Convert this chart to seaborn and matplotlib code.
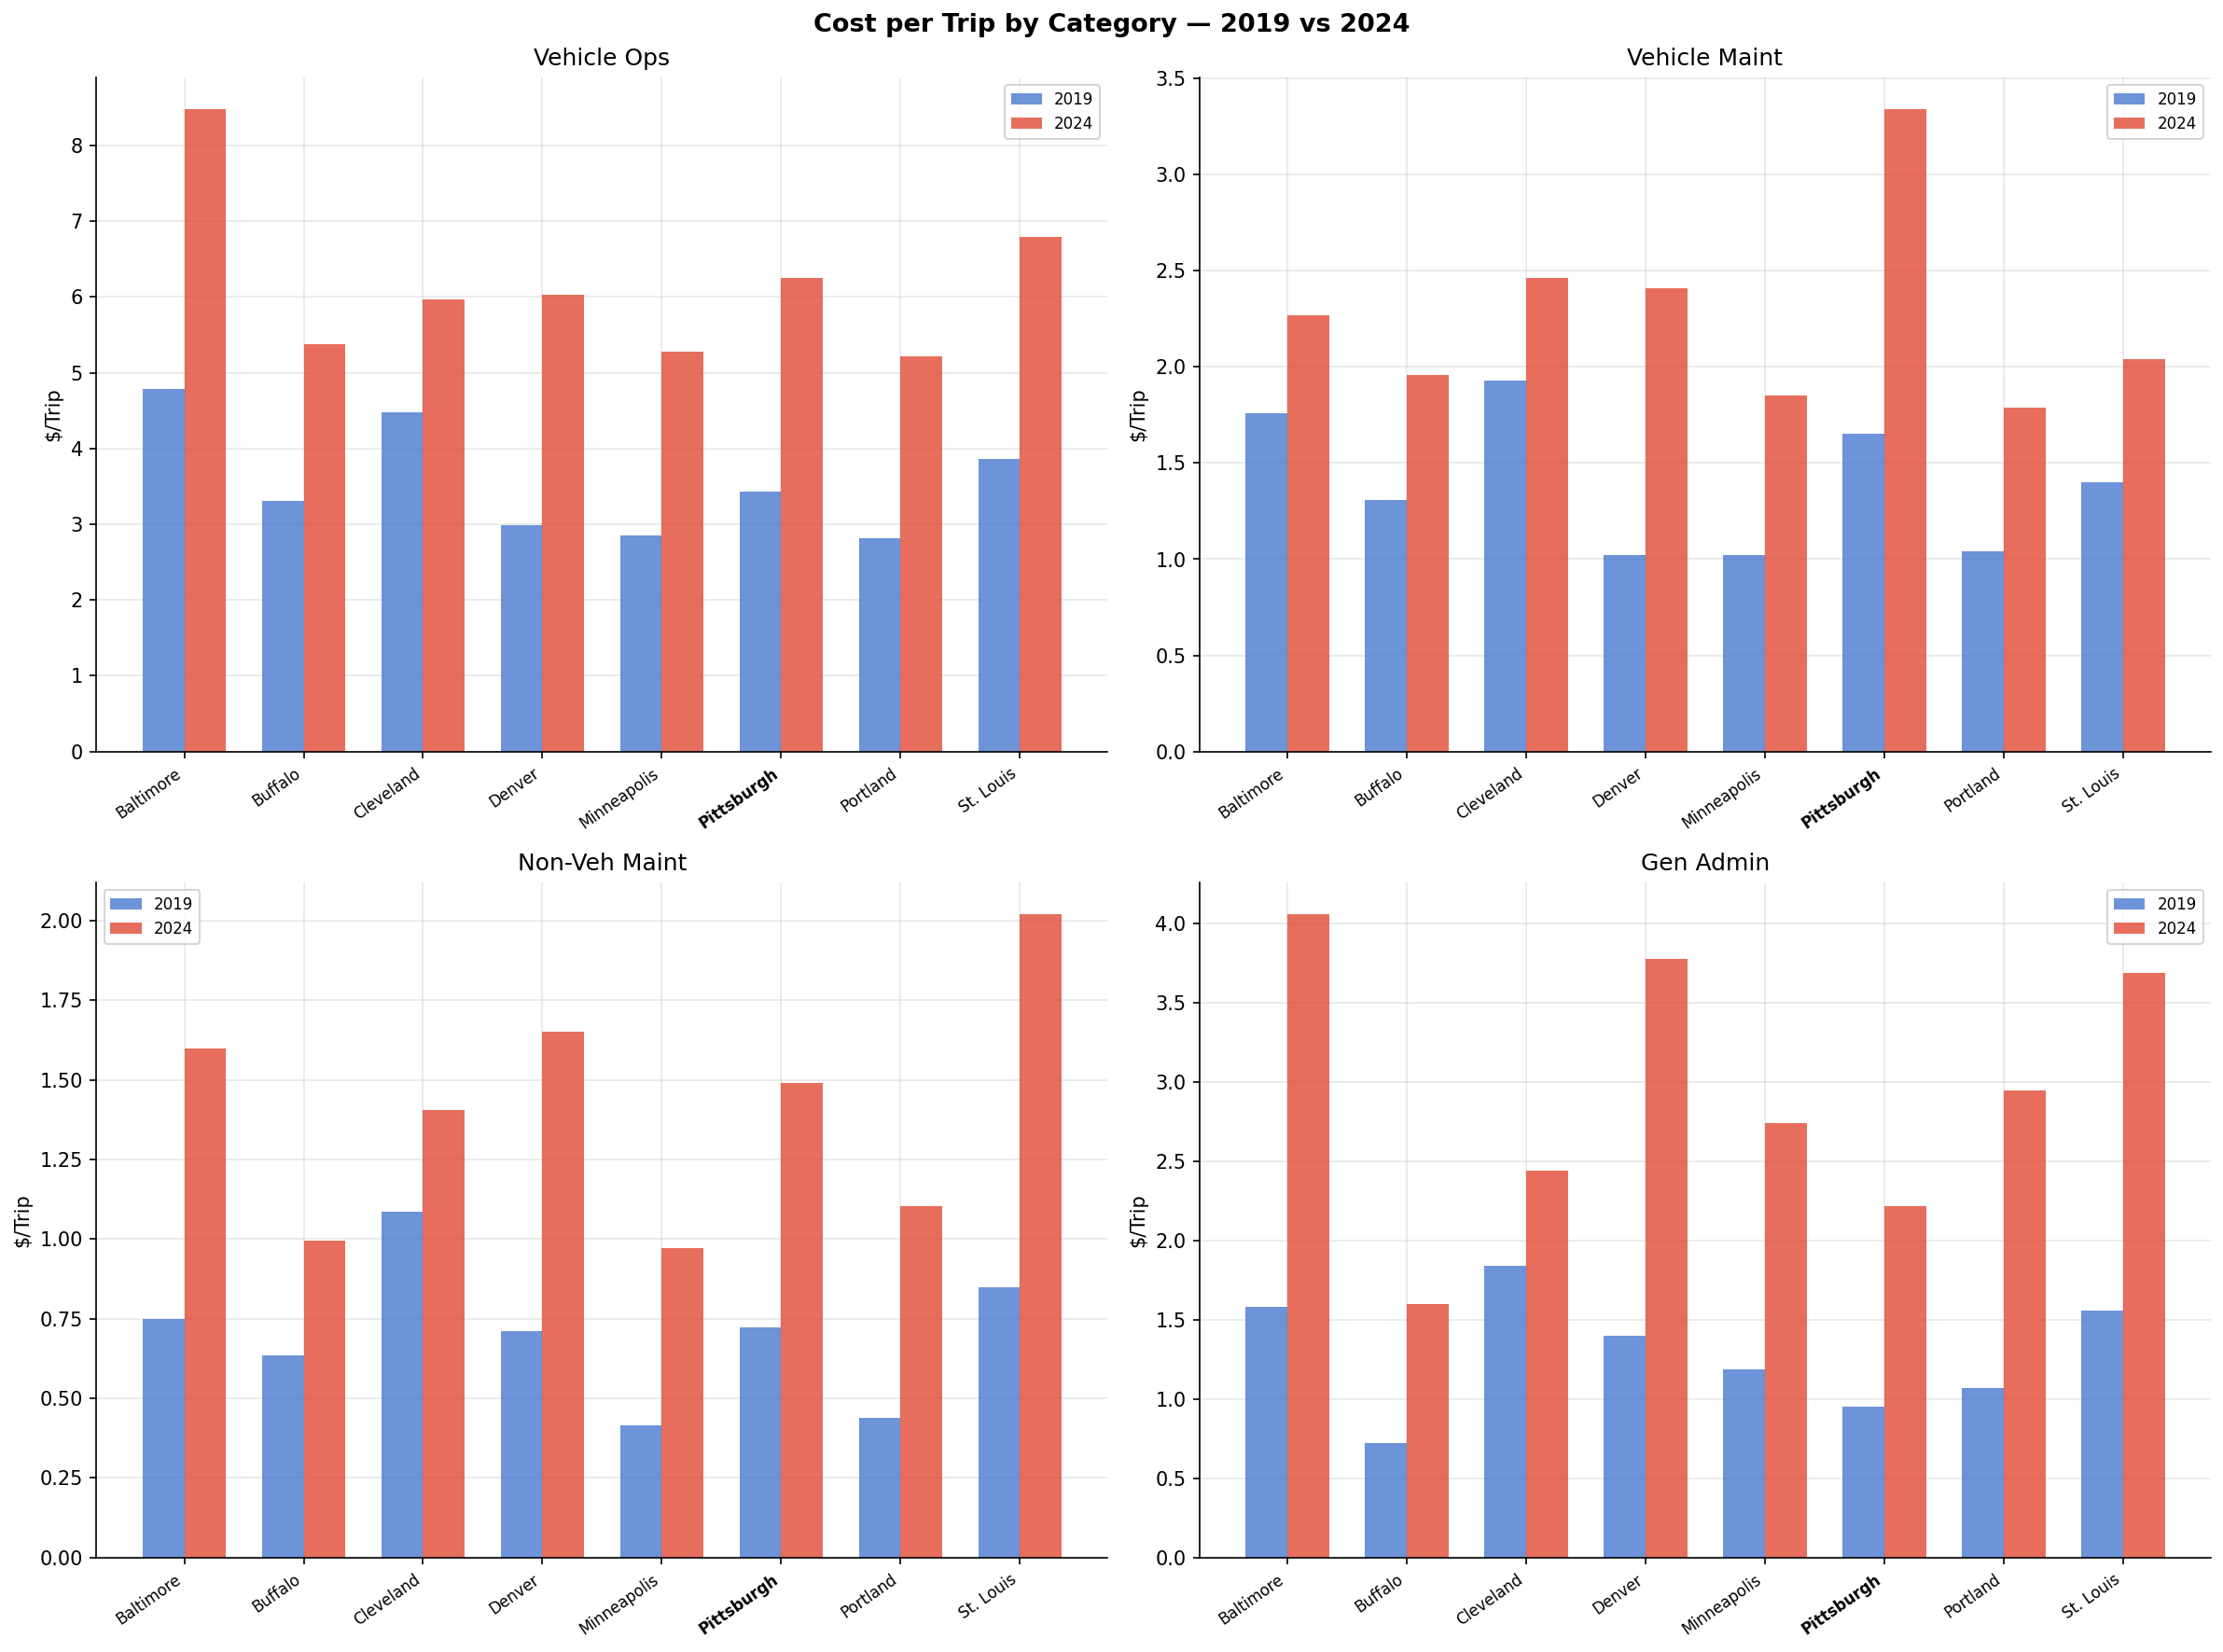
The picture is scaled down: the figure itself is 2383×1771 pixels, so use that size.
import matplotlib
matplotlib.use("Agg")
import matplotlib.pyplot as plt
import seaborn as sns
import pandas as pd

cities = ["Baltimore", "Buffalo", "Cleveland", "Denver", "Minneapolis", "Pittsburgh", "Portland", "St. Louis"]
years = ["2019", "2024"]
categories = ["Vehicle Ops", "Vehicle Maint", "Non-Veh Maint", "Gen Admin"]

veh_ops_2019 = [4.79, 3.31, 4.48, 2.99, 2.85, 3.43, 2.82, 3.86]
veh_ops_2024 = [8.48, 5.38, 5.97, 6.03, 5.28, 6.25, 5.22, 6.79]
veh_maint_2019 = [1.76, 1.31, 1.93, 1.02, 1.02, 1.65, 1.04, 1.40]
veh_maint_2024 = [2.27, 1.96, 2.46, 2.41, 1.85, 3.34, 1.79, 2.04]
nonveh_2019 = [0.75, 0.635, 1.085, 0.71, 0.415, 0.723, 0.44, 0.848]
nonveh_2024 = [1.60, 0.995, 1.406, 1.65, 0.973, 1.49, 1.105, 2.02]
admin_2019 = [1.58, 0.72, 1.84, 1.40, 1.19, 0.955, 1.07, 1.56]
admin_2024 = [4.06, 1.60, 2.44, 3.78, 2.74, 2.22, 2.95, 3.69]

series = {
    "Vehicle Ops": (veh_ops_2019, veh_ops_2024),
    "Vehicle Maint": (veh_maint_2019, veh_maint_2024),
    "Non-Veh Maint": (nonveh_2019, nonveh_2024),
    "Gen Admin": (admin_2019, admin_2024),
}

palette = {"2019": "#4878d0", "2024": "#e24a33"}
legend_locs = ["upper right", "upper right", "upper left", "upper right"]

plt.rcParams["font.family"] = ["DejaVu Sans"]

fig, axes = plt.subplots(2, 2, figsize=(15.893, 11.807), dpi=150)
positions = [
    [0.0434, 0.5451, 0.4547, 0.4082],
    [0.5394, 0.5451, 0.4547, 0.4082],
    [0.0434, 0.0572, 0.4547, 0.4088],
    [0.5394, 0.0572, 0.4547, 0.4088],
]

for ax, cat, pos, lloc in zip(axes.flat, categories, positions, legend_locs):
    v19, v24 = series[cat]
    df = pd.DataFrame({
        "City": cities * 2,
        "Year": [years[0]] * len(cities) + [years[1]] * len(cities),
        "Value": list(v19) + list(v24),
    })
    sns.barplot(data=df, x="City", y="Value", hue="Year", palette=palette,
                width=0.7, alpha=0.8, ax=ax, errorbar=None, saturation=1,
                linewidth=0)
    ax.set_position(pos)
    ax.set_axisbelow(True)
    ax.grid(True, alpha=0.3)
    ax.set_xlim(-0.735, 7.735)
    ax.set_title(cat, fontsize=12)
    ax.set_xlabel("")
    ax.set_ylabel(r"\$/Trip", fontsize=10)
    ax.tick_params(axis="y", labelsize=10)
    ax.set_xticks(range(len(cities)))
    ax.set_xticklabels(cities, rotation=35, ha="right", fontsize=8)
    for lab in ax.get_xticklabels():
        if lab.get_text() == "Pittsburgh":
            lab.set_fontweight("bold")
    sns.despine(ax=ax)
    ax.legend(loc=lloc, fontsize=8, title=None)

fig.suptitle("Cost per Trip by Category \u2014 2019 vs 2024", fontsize=13, fontweight="bold", y=0.992)
fig.savefig("out.png", dpi=150)
